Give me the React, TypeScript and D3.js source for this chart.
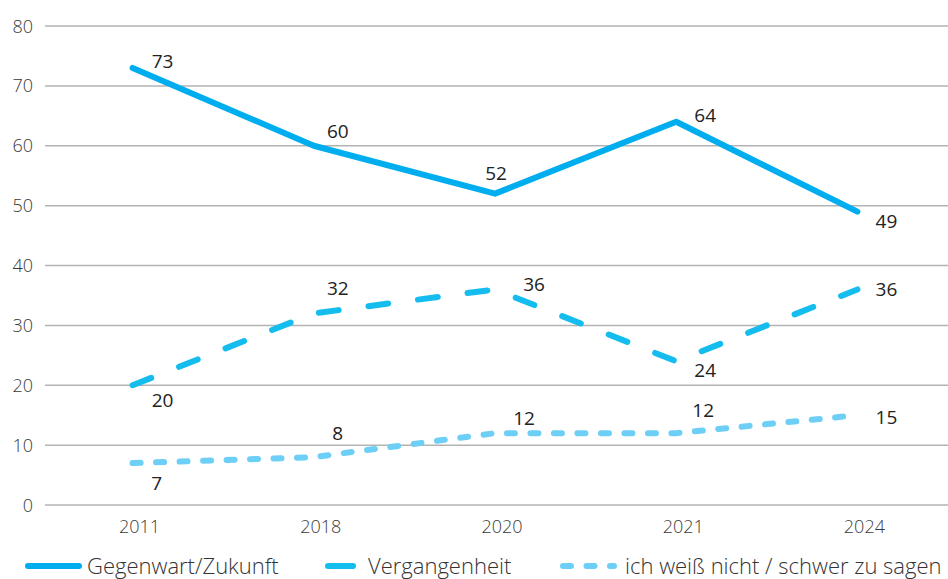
import React from "react";
import * as d3 from "d3";

const WIDTH = 948;
const HEIGHT = 579;

const YEARS = ["2011", "2018", "2020", "2021", "2024"];
const Y_TICKS = [0, 10, 20, 30, 40, 50, 60, 70, 80];

const GEGENWART = [73, 60, 52, 64, 49];
const VERGANGENHEIT = [20, 32, 36, 24, 36];
const WEISS_NICHT = [7, 8, 12, 12, 15];

const SERIES_NAMES = [
  "Gegenwart/Zukunft",
  "Vergangenheit",
  "ich weiß nicht / schwer zu sagen",
];

// label offsets (dx, dy) relative to each point
const LABEL_OFFSETS = [
  [[30, 0], [24, -8], [1, -14], [29, 0], [29, 16]],
  [[30, 22], [24, -18], [39, 2], [29, 16], [29, 7]],
  [[24, 27], [24, -17], [29, -8], [27, -16], [29, 9]],
];

const STYLES = [
  { color: "#00aeef", dash: null },
  { color: "#14bdee", dash: "20 30" },
  { color: "#6dcff6", dash: "8 15.5" },
];

const FONT = "'Open Sans', 'Noto Sans', sans-serif";

export default function App() {
  const x = d3.scaleBand<string>().domain(YEARS).range([42, 948]);
  const y = d3.scaleLinear().domain([0, 80]).range([505, 26]);
  const cx = (yr: string) => (x(yr) ?? 0) + x.bandwidth() / 2;

  const line = d3
    .line<number>()
    .x((_d, i) => cx(YEARS[i]))
    .y((d) => y(d));

  const allSeries = [GEGENWART, VERGANGENHEIT, WEISS_NICHT];

  return (
    <svg
      width={WIDTH}
      height={HEIGHT}
      style={{ position: "absolute", left: 0, top: 0, fontFamily: FONT }}
    >
      <rect width={WIDTH} height={HEIGHT} fill="#fff" />

      {/* grid + y ticks */}
      {Y_TICKS.map((t) => (
        <g key={t}>
          <line x1={45} x2={948} y1={y(t)} y2={y(t)} stroke="#b3b3b3" strokeWidth={1.5} />
          <text x={33} y={y(t) + 6.5} textAnchor="end" fontSize={18} fill="#3a3a3a" fontWeight={300}>
            {t}
          </text>
        </g>
      ))}

      {/* x ticks */}
      {YEARS.map((yr) => (
        <text
          key={yr}
          x={cx(yr) + 7}
          y={533}
          textAnchor="middle"
          fontSize={18}
          fill="#3a3a3a"
          fontWeight={300}
        >
          {yr}
        </text>
      ))}

      {/* lines */}
      {allSeries.map((s, i) => (
        <path
          key={i}
          d={line(s) ?? ""}
          fill="none"
          stroke={STYLES[i].color}
          strokeWidth={6}
          strokeLinecap="round"
          strokeLinejoin="round"
          strokeDasharray={STYLES[i].dash ?? undefined}
        />
      ))}

      {/* data labels */}
      {allSeries.map((s, i) =>
        s.map((v, j) => (
          <text
            key={`${i}-${j}`}
            x={cx(YEARS[j]) + LABEL_OFFSETS[i][j][0]}
            y={y(v) + LABEL_OFFSETS[i][j][1]}
            textAnchor="middle"
            fontSize={19}
            fill="#222"
          >
            {v}
          </text>
        )),
      )}

      {/* legend */}
      <g>
        <line x1={28} x2={79} y1={566} y2={566} stroke={STYLES[0].color} strokeWidth={6} strokeLinecap="round" />
        <text x={87} y={574} fontSize={22} fill="#333" fontWeight={300}>
          {SERIES_NAMES[0]}
        </text>
        <line x1={328} x2={353} y1={566} y2={566} stroke={STYLES[1].color} strokeWidth={6} strokeLinecap="round" />
        <text x={368} y={574} fontSize={22} fill="#333" fontWeight={300}>
          {SERIES_NAMES[1]}
        </text>
        <line
          x1={563}
          x2={614}
          y1={566}
          y2={566}
          stroke={STYLES[2].color}
          strokeWidth={6}
          strokeLinecap="round"
          strokeDasharray="8 15.5"
        />
        <text x={625} y={574} fontSize={22} fill="#333" fontWeight={300}>
          {SERIES_NAMES[2]}
        </text>
      </g>
    </svg>
  );
}
